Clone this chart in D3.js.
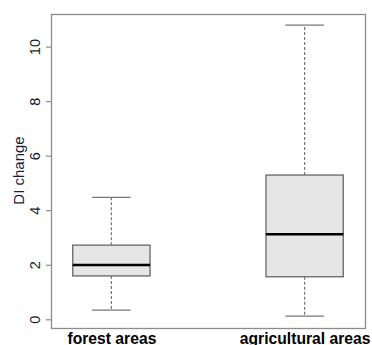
<!DOCTYPE html>
<html><head><meta charset="utf-8">
<script src="https://cdn.jsdelivr.net/npm/d3@7"></script>
<style>body{margin:0;background:#fff}svg{display:block}</style>
</head><body>
<script>
const categories = ["forest areas", "agricultural areas"];
const whiskerLow = [0.34, 0.12];
const q1 = [1.59, 1.56];
const median = [1.99, 3.12];
const q3 = [2.72, 5.29];
const whiskerHigh = [4.47, 10.79];
const yTicks = [0, 2, 4, 6, 8, 10];
const yLabel = "DI change";

const W = 372, H = 345;
const mLeft = 51, mRight = 365, mTop = 14, mBottom = 328;
const svg = d3.select("body").append("svg").attr("width", W).attr("height", H);

const y = d3.scaleLinear().domain([0, 10]).range([319.3, 46.6]);
const x = d3.scalePoint().domain(categories).range([mLeft, mRight]).padding(0.3125);
const step = x.step();
const boxW = step * 0.4;
const capW = boxW / 2;

// frame
svg.append("rect").attr("x", mLeft + 0.5).attr("y", mTop + 0.5)
  .attr("width", mRight - mLeft).attr("height", mBottom - mTop)
  .attr("fill", "none").attr("stroke", "#8c8c8c").attr("stroke-width", 1.3);

// y axis
const yAxis = d3.axisLeft(y).tickValues(yTicks).tickSize(5).tickPadding(0).tickFormat(d3.format("d"));
const gy = svg.append("g").attr("transform", `translate(${mLeft},0)`).call(yAxis);
gy.select(".domain").remove();
gy.selectAll(".tick line").attr("stroke", "#8c8c8c").attr("stroke-width", 1.2);
gy.selectAll(".tick text").attr("x", 0).attr("dy", 0)
  .attr("transform", "translate(-16,0) rotate(-90)")
  .attr("text-anchor", "middle").attr("dominant-baseline", "central")
  .attr("fill", "#1a1a2e").style("font-family", "Liberation Sans, Arial, sans-serif").style("font-size", "14.5px");

svg.append("text").attr("transform", `translate(18,170.5) rotate(-90)`)
  .attr("text-anchor", "middle").attr("dominant-baseline", "central")
  .attr("fill", "#1a1a3a").style("font-family", "Liberation Sans, Arial, sans-serif").style("font-size", "15px")
  .text(yLabel);

const data = categories.map((c, i) => ({c, lo: whiskerLow[i], q1: q1[i], med: median[i], q3: q3[i], hi: whiskerHigh[i]}));
const g = svg.append("g");
data.forEach(d => {
  const cx = x(d.c);
  g.append("line").attr("x1", cx).attr("x2", cx).attr("y1", y(d.q3)).attr("y2", y(d.hi))
    .attr("stroke", "#777").attr("stroke-width", 1.2).attr("stroke-dasharray", "3,2");
  g.append("line").attr("x1", cx).attr("x2", cx).attr("y1", y(d.q1)).attr("y2", y(d.lo))
    .attr("stroke", "#777").attr("stroke-width", 1.2).attr("stroke-dasharray", "3,2");
  g.append("line").attr("x1", cx - capW / 2).attr("x2", cx + capW / 2).attr("y1", y(d.hi)).attr("y2", y(d.hi))
    .attr("stroke", "#777").attr("stroke-width", 1.3);
  g.append("line").attr("x1", cx - capW / 2).attr("x2", cx + capW / 2).attr("y1", y(d.lo)).attr("y2", y(d.lo))
    .attr("stroke", "#777").attr("stroke-width", 1.3);
  g.append("rect").attr("x", cx - boxW / 2).attr("y", y(d.q3)).attr("width", boxW).attr("height", y(d.q1) - y(d.q3))
    .attr("fill", "#e6e6e6").attr("stroke", "#666").attr("stroke-width", 1.3);
  g.append("line").attr("x1", cx - boxW / 2).attr("x2", cx + boxW / 2).attr("y1", y(d.med)).attr("y2", y(d.med))
    .attr("stroke", "#000").attr("stroke-width", 2.5);
});

// x labels
const xAxis = d3.axisBottom(x).tickSize(0).tickPadding(0);
const gx = svg.append("g").attr("transform", `translate(0,${mBottom})`).call(xAxis);
gx.select(".domain").remove();
gx.selectAll(".tick text").attr("y", 15.5).attr("dy", 0)
  .attr("fill", "#000").style("font-family", "Liberation Sans, Arial, sans-serif")
  .style("font-size", "15.7px").style("font-weight", "bold");
</script>
</body></html>
